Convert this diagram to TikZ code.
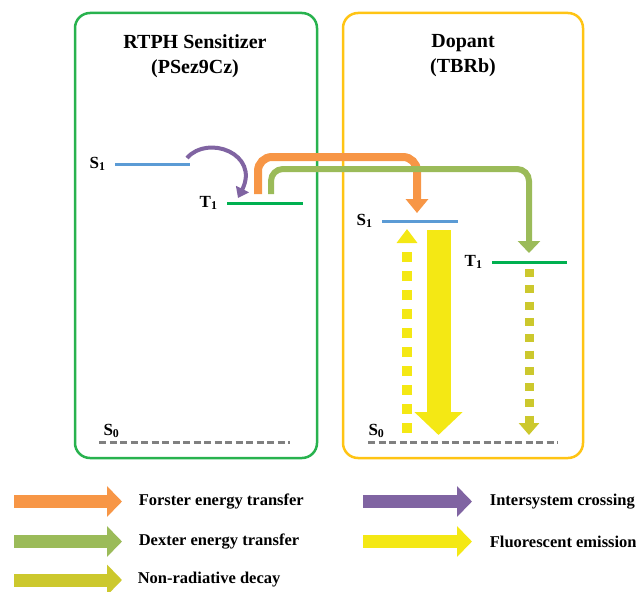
\documentclass[tikz,border=0pt]{standalone}
\usepackage{fontspec}
\setmainfont{Liberation Serif}
\usetikzlibrary{arrows.meta}
\definecolor{boxgreen}{RGB}{40,178,78}
\definecolor{boxgold}{RGB}{255,196,20}
\definecolor{levblue}{RGB}{91,155,213}
\definecolor{levgreen}{RGB}{0,176,80}
\definecolor{forsterorange}{RGB}{247,150,70}
\definecolor{dextergreen}{RGB}{155,187,89}
\definecolor{iscpurple}{RGB}{128,100,162}
\definecolor{fluoyellow}{RGB}{244,232,20}
\definecolor{nrolive}{RGB}{204,200,45}
\begin{document}
\begin{tikzpicture}
[x=1pt,y=-1pt,
  boxdecorate/.style={line width=2.5pt,rounded corners=15pt},%
  titledecorate/.style={align=center,font=\bfseries\fontsize{20}{25}\selectfont},%
  leveldecorate/.style={line width=3pt},%
  groundlevel/.style={line width=3pt,gray,dash pattern=on 7pt off 3.5pt},%
  statedecorate/.style={font=\bfseries\fontsize{17}{19}\selectfont},%
  legenddecorate/.style={anchor=west,font=\bfseries\fontsize{16.5}{18}\selectfont},%
  legendarrow/.style={line width=13pt,-{Triangle[width=30pt,length=15pt]}}]
\useasboundingbox (0,0) rectangle (636,591);
% boxes and titles
\draw[boxdecorate,boxgreen] (75,13) rectangle (317,458);
\draw[boxdecorate,boxgold] (343,13) rectangle (583,458);
\node (senstitle) at (195,56) [titledecorate] {RTPH Sensitizer\\(PSez9Cz)};
\node (doptitle) at (463,56) [titledecorate] {Dopant\\(TBRb)};
% levels of the sensitizer
\coordinate (sS1a) at (115,164); \coordinate (sS1b) at (190,164);
\coordinate (sT1a) at (227,203); \coordinate (sT1b) at (303,203);
\coordinate (sS0a) at (99,442); \coordinate (sS0b) at (290,442);
\draw[leveldecorate,levblue] (sS1a) -- (sS1b);
\draw[leveldecorate,levgreen] (sT1a) -- (sT1b);
\draw[groundlevel] (sS0a) -- (sS0b);
\node [statedecorate,left=6pt] at (sS1a) {S\textsubscript{1}};
\node [statedecorate,left=6pt] at (sT1a) {T\textsubscript{1}};
\node [statedecorate,anchor=base west] at ([xshift=1pt,yshift=7pt]sS0a) {S\textsubscript{0}};
% levels of the dopant
\coordinate (dS1a) at (382,221); \coordinate (dS1b) at (458,221);
\coordinate (dT1a) at (492,262); \coordinate (dT1b) at (567,262);
\coordinate (dS0a) at (368,442); \coordinate (dS0b) at (558,442);
\draw[leveldecorate,levblue] (dS1a) -- (dS1b);
\draw[leveldecorate,levgreen] (dT1a) -- (dT1b);
\draw[groundlevel] (dS0a) -- (dS0b);
\node [statedecorate,left=6pt] at (dS1a) {S\textsubscript{1}};
\node [statedecorate,left=6pt] at (dT1a) {T\textsubscript{1}};
\node [statedecorate,anchor=base west] at ([xshift=-3pt,yshift=7pt]dS0a) {S\textsubscript{0}};
% transfers
\coordinate (iscstart) at (187,158); \coordinate (iscend) at (238,198);
\draw[iscpurple,line width=4pt,-{Triangle[width=14pt,length=10pt]}]
  (iscstart) .. controls (208,134) and (260,154) .. (iscend);
\coordinate (fstart) at (258,194); \coordinate (fend) at (417,213);
\draw[forsterorange,line width=8pt,rounded corners=14pt,-{Triangle[width=22pt,length=14pt]}]
  (fstart) |- (fend |- 0,157) -- (fend);
\coordinate (dstart) at (271,194); \coordinate (dend) at (529,253);
\draw[dextergreen,line width=6pt,rounded corners=12pt,-{Triangle[width=22pt,length=12pt]}]
  (dstart) |- (dend |- 0,169) -- (dend);
% emission and decay
\coordinate (absbot) at (407,433); \coordinate (abstop) at (407,229);
\draw[fluoyellow,line width=10pt,dash pattern=on 10pt off 9pt,-{Triangle[width=20pt,length=14pt]}]
  (absbot) -- (abstop);
\coordinate (fltop) at (438.5,230); \coordinate (flbot) at (438.5,435);
\draw[fluoyellow,line width=24pt,-{Triangle[width=47pt,length=23pt]}] (fltop) -- (flbot);
\coordinate (nrtop) at (529,269); \coordinate (nrbot) at (529,435);
\draw[nrolive,line width=9pt,dash pattern=on 8pt off 8.3pt,-{Triangle[width=20pt,length=12pt]}]
  (nrtop) -- (nrbot);
% legend
\coordinate (lg1) at (14,501.5); \coordinate (lg2) at (14,541.5); \coordinate (lg3) at (14,580);
\coordinate (lg4) at (363,501.5); \coordinate (lg5) at (363,541.5);
\draw[legendarrow,forsterorange] (lg1) -- ++(108,0) node (lgt1) [legenddecorate,xshift=7pt,black] {Forster energy transfer};
\draw[legendarrow,dextergreen] (lg2) -- ++(108,0) node (lgt2) [legenddecorate,xshift=7pt,black] {Dexter energy transfer};
\draw[legendarrow,nrolive] (lg3) -- ++(108,0) node (lgt3) [legenddecorate,xshift=6pt,black] {Non-radiative decay};
\draw[legendarrow,iscpurple] (lg4) -- ++(109,0) node (lgt4) [legenddecorate,xshift=8pt,black] {Intersystem crossing};
\draw[legendarrow,fluoyellow] (lg5) -- ++(109,0) node (lgt5) [legenddecorate,xshift=8pt,black] {Fluorescent emission};
\end{tikzpicture}
\end{document}
